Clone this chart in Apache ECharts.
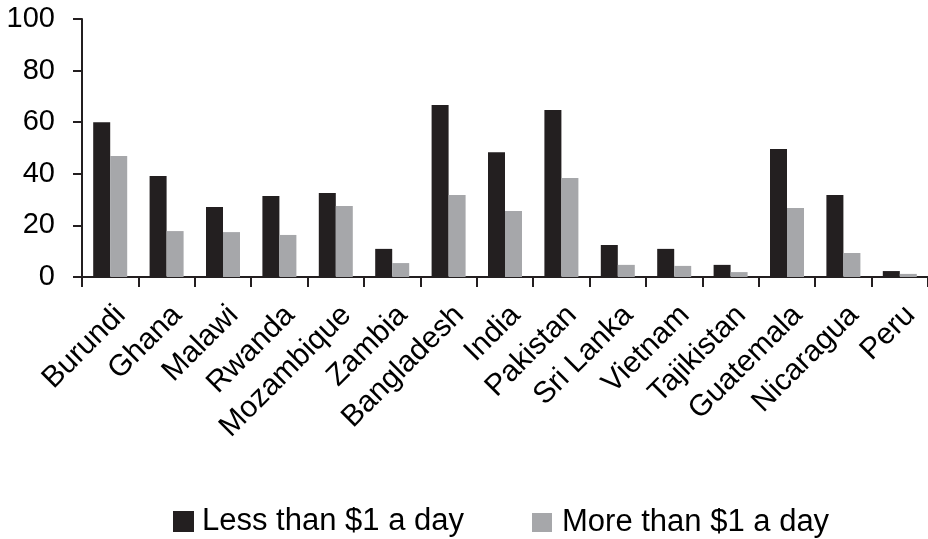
<!DOCTYPE html>
<html>
<head>
<meta charset="utf-8">
<script src="https://cdn.jsdelivr.net/npm/echarts@6/dist/echarts.min.js"></script>
<style>
  html, body { margin: 0; padding: 0; background: #fff; }
  #chart { width: 928px; height: 539px; }
</style>
</head>
<body>
<div id="chart"></div>
<script>
var countries = ['Burundi', 'Ghana', 'Malawi', 'Rwanda', 'Mozambique', 'Zambia', 'Bangladesh', 'India',
  'Pakistan', 'Sri Lanka', 'Vietnam', 'Tajikistan', 'Guatemala', 'Nicaragua', 'Peru'];
var lessThan1 = [60.0, 39.1, 27.1, 31.4, 32.6, 10.9, 66.7, 48.4, 64.7, 12.4, 10.9, 4.7, 49.6, 31.8, 2.3];
var moreThan1 = [46.9, 17.8, 17.4, 16.3, 27.5, 5.4, 31.8, 25.6, 38.4, 4.7, 4.3, 1.9, 26.7, 9.3, 1.2];
var seriesNames = ['Less than $1 a day', 'More than $1 a day'];

var chart = echarts.init(document.getElementById('chart'), null, { renderer: 'canvas' });
var font = '"Liberation Sans", Arial, sans-serif';

var option = {
  backgroundColor: '#ffffff',
  color: ['#231f20', '#a6a7aa'],
  animation: false,
  textStyle: { fontFamily: font },
  grid: {
    left: 82,
    top: 19,
    width: 850,
    height: 258
  },
  // two legends so each item sits where it does in the picture
  legend: [{
    data: [seriesNames[0]],
    left: 173,
    top: 506,
    padding: 0,
    icon: 'rect',
    itemWidth: 21,
    itemHeight: 21,
    textStyle: { fontSize: 31, color: '#000', fontFamily: font, padding: [0, 0, 0, 3] }
  }, {
    data: [seriesNames[1]],
    left: 532,
    top: 507,
    padding: 0,
    icon: 'rect',
    itemWidth: 20,
    itemHeight: 19,
    textStyle: { fontSize: 31, color: '#000', fontFamily: font, padding: [0, 0, 0, 5] }
  }],
  xAxis: {
    type: 'category',
    data: countries,
    axisLine: { lineStyle: { color: '#231f20', width: 2 } },
    axisTick: { show: true, length: 10, lineStyle: { color: '#231f20', width: 2 } },
    axisLabel: {
      rotate: 45,
      interval: 0,
      margin: 23,
      verticalAlign: 'top',
      fontSize: 30,
      color: '#000',
      fontFamily: font
    }
  },
  yAxis: {
    type: 'value',
    min: 0,
    max: 100,
    interval: 20,
    splitLine: { show: false },
    axisLine: { show: true, lineStyle: { color: '#231f20', width: 2 } },
    axisTick: { show: true, length: 9, lineStyle: { color: '#231f20', width: 2 } },
    axisLabel: { fontSize: 29, color: '#000', margin: 27, fontFamily: font }
  },
  series: [{
    name: seriesNames[0],
    type: 'bar',
    data: lessThan1,
    barWidth: 17,
    barGap: '0%'
  }, {
    name: seriesNames[1],
    type: 'bar',
    data: moreThan1,
    barWidth: 17,
    barGap: '0%'
  }]
};

chart.setOption(option);
</script>
</body>
</html>
